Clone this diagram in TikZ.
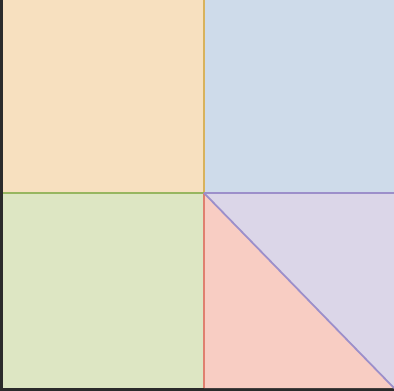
\documentclass[tikz,border=0pt]{standalone}
\usepackage{xcolor}
\definecolor{frameDark}{HTML}{2B2B2B}
\definecolor{squareOrange}{HTML}{F7E0BF}
\definecolor{lineOrange}{HTML}{D8B25C}
\definecolor{squareBlue}{HTML}{CEDBEA}
\definecolor{squareGreen}{HTML}{DDE6C3}
\definecolor{lineGreen}{HTML}{97B660}
\definecolor{triRed}{HTML}{F8CDC3}
\definecolor{lineRed}{HTML}{E0806F}
\definecolor{triPurple}{HTML}{DBD6E8}
\definecolor{linePurple}{HTML}{9C8FCA}
\usepackage{tikz}

\begin{document}
\begin{tikzpicture}[
		x=1pt, y=-1pt,
		edge/.style={line width=1.8pt, line join=miter}
		]
		
		% frame
		\fill[frameDark] (0,0) rectangle (394,391);
		\useasboundingbox (0,0) rectangle (394,391);
		
		\coordinate (tl) at (3,0);
		\coordinate (tm) at (204,0);
		\coordinate (tr) at (394,0);
		\coordinate (ml) at (3,193);
		\coordinate (mm) at (204,193);
		\coordinate (mr) at (394,193);
		\coordinate (bl) at (3,388);
		\coordinate (bm) at (204,388);
		\coordinate (br) at (394,388);
		
		% squares
		\fill[squareBlue] (tm) rectangle (mr);
		\fill[squareOrange] (tl) rectangle (mm);
		\fill[squareGreen] (ml) rectangle (bm);
		\draw[edge, lineOrange] (tm) -- (mm);
		\draw[edge, lineGreen] (ml) -- (mm);
		
		% triangles
		\fill[triRed] (mm) -- (bm) -- (br) -- cycle;
		\fill[triPurple] (mm) -- (mr) -- (br) -- cycle;
		\draw[edge, lineRed] (mm) -- (bm);
		\draw[edge, linePurple] (mm) -- (mr);
		\draw[edge, linePurple] (mm) -- (br);
		
	\end{tikzpicture}
\end{document}
